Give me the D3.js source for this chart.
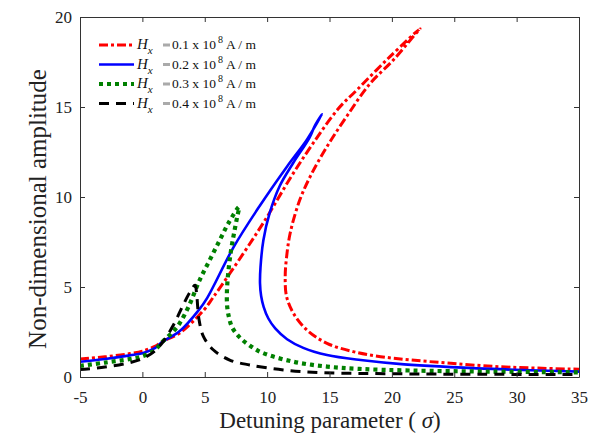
<!DOCTYPE html>
<html>
<head>
<meta charset="utf-8">
<script src="https://cdn.jsdelivr.net/npm/d3@7"></script>
<style>
  html, body { margin: 0; padding: 0; background: #fff; }
  svg { display: block; }
  text { font-family: "Liberation Serif", "Times New Roman", serif; }
</style>
</head>
<body>
<svg id="chart" width="593" height="434"></svg>
<script>
// ---- data ----
const xTicks = [-5, 0, 5, 10, 15, 20, 25, 30, 35];
const yTicks = [0, 5, 10, 15, 20];
const seriesLabels = ["0.1", "0.2", "0.3", "0.4"];

// [sigma, amplitude] points, in order along each response curve
const hx01 = [[-5,1.0],[-3,1.12],[-1,1.3],[0,1.44],[1,1.7],[1.6,1.97],[3,2.45],[4.9,3.7],[5.7,4.45],[8.1,6.87],[10.0,8.9],[11.9,11.1],[13.7,13.0],[15.7,14.9],[17.2,15.95],[19.85,17.8],[22.25,19.35],
  [21.7,18.9],[20.1,17.6],[18.25,16.3],[16.4,14.5],[14.8,12.8],[13.5,11.2],[12.6,9.8],[11.85,8.0],[11.55,6.6],[11.45,5.6],[11.55,4.5],[12.1,3.55],[13.2,2.6],[14.8,1.87],[16.9,1.41],[19.1,1.13],[21.5,0.95],[24.7,0.76],[28.7,0.57],[35,0.43]];
const hx02 = [[-5,0.85],[-3,1.0],[-1,1.2],[0,1.32],[1,1.6],[1.6,1.95],[3,2.55],[4.5,3.7],[5.2,4.4],[7.3,7.2],[9.4,9.5],[11.6,11.7],[13.2,13.2],[14.4,14.6],
  [13.85,14.0],[13.4,13.3],[12.1,11.9],[11.0,10.6],[10.2,9.1],[9.7,7.6],[9.47,6.1],[9.43,5.2],[9.52,4.5],[9.72,3.9],[10.1,3.25],[10.65,2.7],[11.6,2.1],[12.9,1.62],[14.8,1.22],[17.5,0.94],[21,0.7],[28,0.45],[35,0.3]];
const hx03 = [[-5,0.62],[-3,0.8],[-1,1.0],[0,1.15],[1,1.5],[1.6,1.95],[2.5,2.55],[3.0,3.0],[3.7,3.9],[4.6,5.4],[5.4,6.5],[6.2,7.6],[6.9,8.55],[7.75,9.45],
  [7.6,8.9],[7.35,8.0],[7.1,7.0],[6.9,5.9],[6.78,4.8],[6.8,3.9],[6.95,3.3],[7.2,2.75],[7.8,2.2],[8.6,1.75],[9.6,1.35],[12.1,0.85],[14.8,0.58],[17.4,0.45],[21.5,0.36],[28,0.3],[35,0.26]];
const hx04 = [[-5,0.42],[-3,0.55],[-1,0.8],[0,1.02],[1,1.45],[1.7,2.0],[2.5,2.9],[3.2,3.9],[3.8,4.7],[4.22,5.1],
  [4.35,4.6],[4.54,3.2],[4.9,2.24],[5.7,1.5],[7.0,0.94],[8.6,0.67],[11.3,0.39],[14.5,0.24],[20,0.18],[27,0.15],[35,0.14]];

const series = [
  { data: hx01, label: seriesLabels[0], color: "#ff0000", width: 3,   dash: "9,3,3,3" },
  { data: hx02, label: seriesLabels[1], color: "#0000ff", width: 2.6, dash: null },
  { data: hx03, label: seriesLabels[2], color: "#008000", width: 4.2, dash: "4,4" },
  { data: hx04, label: seriesLabels[3], color: "#000000", width: 3,   dash: "10,7" }
];

// ---- layout ----
const svg = d3.select("#chart");
const L = 80, R = 579, T = 17, B = 377;
const x = d3.scaleLinear().domain([-5, 35]).range([L, R]);
const y = d3.scaleLinear().domain([0, 20]).range([B, T]);
const axisColor = "#333";
const fmt = d => String(d);

// clip
svg.append("defs").append("clipPath").attr("id", "clip")
  .append("rect").attr("x", L).attr("y", T).attr("width", R - L).attr("height", B - T);

// curves
const line = d3.line().x(d => x(d[0])).y(d => y(d[1])).curve(d3.curveCatmullRom.alpha(0.5));
const plot = svg.append("g").attr("clip-path", "url(#clip)");
series.forEach(s => {
  plot.append("path")
    .attr("d", line(s.data))
    .attr("fill", "none")
    .attr("stroke", s.color)
    .attr("stroke-width", s.width)
    .attr("stroke-dasharray", s.dash)
    .attr("stroke-linejoin", "round");
});

// axes (box with inward ticks on all sides)
function styleAxis(g) {
  g.attr("font-family", '"Liberation Serif", "Times New Roman", serif').attr("font-size", 17);
  g.select(".domain").attr("stroke", axisColor).attr("stroke-width", 1);
  g.selectAll(".tick line").attr("stroke", axisColor);
  g.selectAll(".tick text").attr("fill", "#222");
}
svg.append("g").attr("transform", `translate(0,${B})`)
  .call(d3.axisBottom(x).tickValues(xTicks).tickSizeInner(-5).tickSizeOuter(0).tickPadding(14).tickFormat(fmt))
  .call(styleAxis);
svg.append("g").attr("transform", `translate(${L},0)`)
  .call(d3.axisLeft(y).tickValues(yTicks).tickSizeInner(-5).tickSizeOuter(0).tickPadding(8).tickFormat(fmt))
  .call(styleAxis);
svg.append("g").attr("transform", `translate(0,${T})`)
  .call(d3.axisTop(x).tickValues(xTicks).tickSizeInner(-5).tickSizeOuter(0).tickFormat(""))
  .call(styleAxis);
svg.append("g").attr("transform", `translate(${R},0)`)
  .call(d3.axisRight(y).tickValues(yTicks).tickSizeInner(-5).tickSizeOuter(0).tickFormat(""))
  .call(styleAxis);

// axis titles
svg.append("text")
  .attr("x", 330).attr("y", 428)
  .attr("text-anchor", "middle").attr("fill", "#222")
  .style("font-size", "23px")
  .html('Detuning parameter ( <tspan font-style="italic">σ</tspan>)');
svg.append("text")
  .attr("transform", `translate(46,209) rotate(-90)`)
  .attr("text-anchor", "middle").attr("fill", "#222")
  .style("font-size", "25px")
  .text("Non-dimensional amplitude");

// legend
const lg = svg.append("g");
const rowY = [45, 64.5, 84, 103.5];
series.forEach((s, i) => {
  const yy = rowY[i];
  lg.append("line").attr("x1", 99).attr("x2", 134).attr("y1", yy).attr("y2", yy)
    .attr("stroke", s.color).attr("stroke-width", s.width).attr("stroke-dasharray", s.dash);
  const t = lg.append("text").attr("x", 137).attr("y", yy + 4).attr("fill", "#111").style("font-size", "13.5px");
  t.append("tspan").attr("font-style", "italic").style("font-size", "15px").text("H");
  t.append("tspan").attr("font-style", "italic").attr("dy", 5).style("font-size", "11px").text("x");
  lg.append("rect").attr("x", 163).attr("y", yy - 1.5).attr("width", 7).attr("height", 3).attr("fill", "#aaa");
  const u = lg.append("text").attr("x", 172).attr("y", yy + 4).attr("fill", "#111").style("font-size", "13.5px");
  u.append("tspan").text(s.label + " x 10");
  u.append("tspan").attr("dy", -6).attr("dx", 2).style("font-size", "10px").text("8");
  u.append("tspan").attr("dy", 6).attr("dx", 3).text("A / m");
});
</script>
</body>
</html>
